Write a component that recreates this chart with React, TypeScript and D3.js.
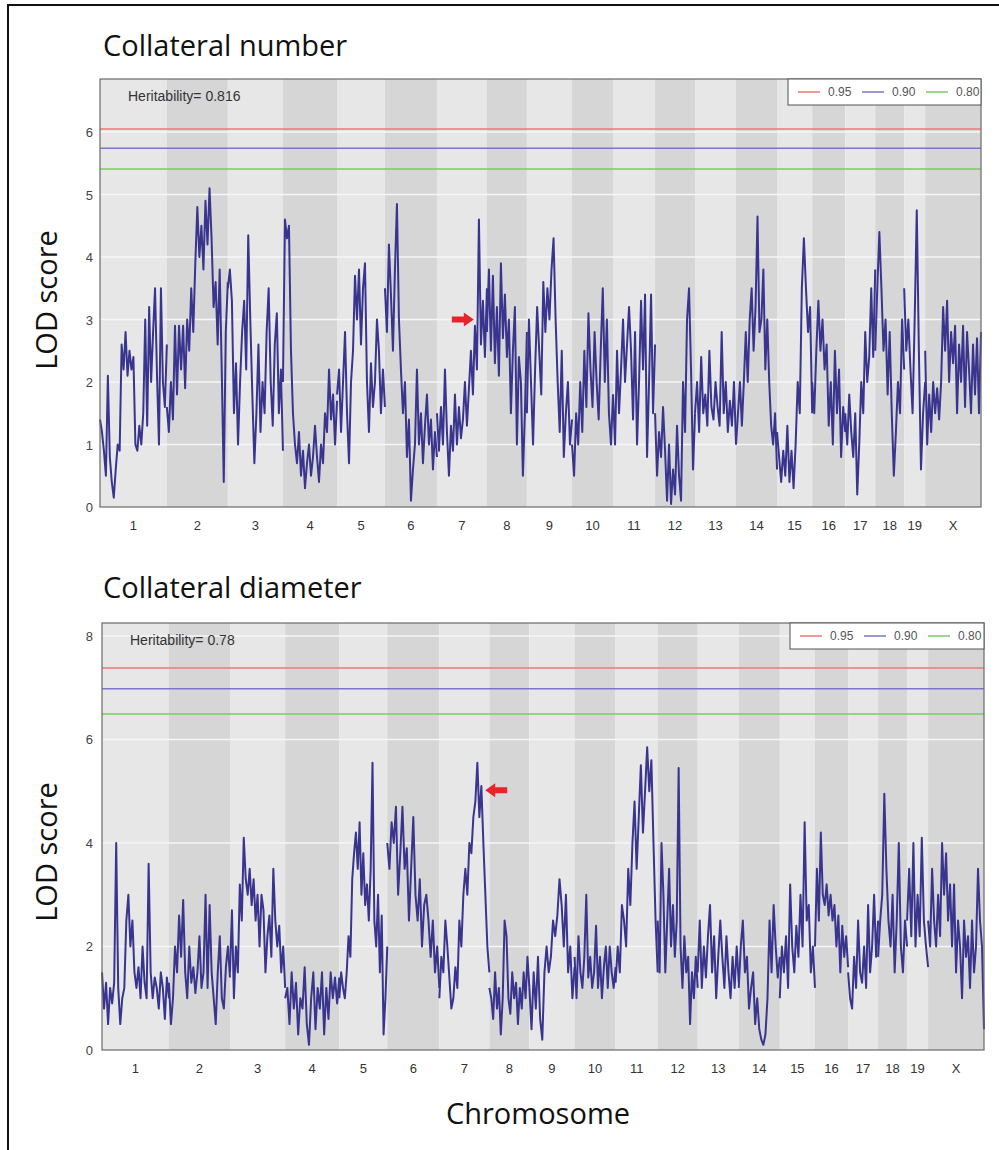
import React, { useRef, useEffect } from 'react';
import * as d3 from 'd3';

// Chromosomes and their lengths (Mb)
const chromosomes = ['1', '2', '3', '4', '5', '6', '7', '8', '9', '10', '11', '12', '13', '14', '15', '16', '17', '18', '19', 'X'];
const chromLengths = [194, 177, 160, 157, 139, 151, 145, 116, 131, 119, 122, 116, 119, 119, 102, 96, 87, 84, 61, 162];

// LOD profile, collateral number (values along each chromosome)
const numberLod = [
  [1.4, 1.2, 0.9, 0.5, 2.1, 0.8, 0.4, 0.15, 0.6, 1.0, 0.9, 2.6, 2.2, 2.8, 2.1, 2.5, 2.2, 2.4, 1.0, 0.9, 1.3, 1.0, 1.5, 3.0, 1.3, 3.2, 2.0, 2.8, 3.5, 2.1, 1.0, 3.5, 2.0, 1.6, 2.6],
  [1.6, 1.2, 2.0, 1.4, 2.9, 1.8, 2.9, 2.2, 2.9, 1.9, 3.0, 2.5, 3.5, 2.8, 3.9, 4.8, 4.0, 4.5, 3.8, 4.9, 4.2, 5.1, 4.3, 3.2, 3.6, 2.6, 3.8, 2.2, 0.4, 2.8, 3.6],
  [3.5, 3.8, 3.3, 1.5, 2.3, 1.0, 2.0, 2.8, 3.3, 2.2, 4.35, 3.0, 1.8, 0.7, 1.5, 2.6, 1.2, 2.0, 1.5, 2.8, 3.5, 2.0, 1.3, 2.6, 3.1, 1.5, 2.2, 0.9],
  [2.0, 4.6, 4.3, 4.5, 2.5, 1.5, 1.0, 0.7, 1.2, 0.5, 0.9, 0.3, 0.7, 1.0, 0.5, 0.8, 1.3, 0.8, 0.4, 1.0, 0.7, 1.5, 1.2, 2.2, 1.4, 1.8, 1.0, 1.7],
  [1.8, 2.2, 1.2, 2.0, 2.8, 1.5, 0.7, 2.0, 2.5, 3.7, 3.0, 3.8, 2.6, 3.5, 3.9, 2.0, 1.2, 2.3, 1.6, 2.0, 3.0, 2.5, 1.5, 2.2, 1.6],
  [3.5, 2.8, 4.2, 3.4, 2.5, 3.8, 4.85, 3.0, 2.2, 1.5, 2.0, 0.8, 1.4, 0.1, 0.6, 1.0, 2.2, 1.0, 1.5, 0.7, 1.3, 1.8, 1.0, 1.4, 0.6, 1.2, 0.8],
  [1.5, 0.9, 1.6, 1.0, 2.2, 1.2, 0.5, 1.3, 0.9, 1.8, 1.0, 1.6, 1.1, 1.4, 2.0, 1.3, 1.9, 2.5, 1.8, 2.9, 2.2, 4.6, 2.6, 3.3, 2.4, 3.5],
  [2.8, 3.8, 2.5, 3.7, 2.3, 3.2, 2.1, 3.9, 2.7, 3.4, 2.4, 3.0, 1.5, 2.5, 3.2, 1.0, 2.4, 2.0, 0.5, 1.5, 2.8],
  [1.5, 3.0, 2.0, 1.0, 2.2, 3.2, 2.5, 1.8, 3.6, 2.8, 3.5, 3.0, 3.8, 4.3, 3.0, 2.0, 1.2, 2.5, 0.8, 1.5, 2.0, 1.0, 1.4],
  [1.0, 0.5, 1.5, 1.0, 2.0, 1.2, 2.5, 1.6, 3.1, 2.2, 1.6, 2.8, 2.0, 1.4, 2.5, 3.5, 2.0, 3.0, 1.5, 1.0, 1.8],
  [1.8, 1.0, 2.5, 1.5, 2.2, 3.0, 2.0, 2.6, 3.2, 2.5, 1.4, 2.8, 1.0, 2.0, 3.3, 2.2, 3.4, 0.8, 2.0, 3.4, 1.5, 2.6],
  [1.5, 0.5, 1.2, 0.8, 1.6, 0.9, 0.1, 1.0, 0.05, 0.6, 0.2, 1.3, 0.5, 0.1, 2.0, 1.2, 3.0, 3.5, 2.2, 0.6, 1.5],
  [1.5, 2.0, 1.2, 2.4, 1.5, 1.8, 1.3, 2.5, 1.6, 1.4, 2.0, 1.6, 1.3, 2.8, 1.5, 2.0, 1.2, 1.7, 1.3, 2.0, 1.0],
  [1.0, 1.5, 2.0, 1.3, 2.0, 2.8, 2.0, 3.0, 3.5, 2.5, 3.2, 4.65, 2.8, 3.0, 3.8, 2.2, 3.0, 2.0, 1.3, 1.0, 1.5, 0.6],
  [1.2, 0.8, 0.4, 0.9, 0.5, 1.3, 0.4, 0.9, 0.3, 1.0, 2.0, 1.5, 3.5, 4.3, 3.5, 2.8, 3.2, 1.5],
  [2.0, 1.5, 2.5, 3.3, 2.5, 3.0, 2.2, 2.6, 1.3, 2.0, 1.0, 2.5, 1.5, 2.2, 0.8, 1.6, 1.2],
  [1.5, 1.0, 1.8, 1.2, 0.8, 1.5, 0.2, 1.0, 2.0, 1.5, 2.8, 2.0, 2.4, 3.5, 2.4, 3.8],
  [2.5, 3.5, 4.4, 3.5, 2.5, 3.0, 1.8, 2.8, 1.5, 0.5, 1.2, 2.0, 1.5, 3.0, 2.2],
  [3.5, 2.5, 3.0, 2.2, 1.5, 3.0, 4.75, 2.5, 0.6, 1.5, 2.0],
  [2.5, 1.0, 1.8, 1.2, 2.0, 1.5, 1.9, 1.4, 2.0, 3.2, 2.5, 3.3, 2.0, 2.8, 2.3, 2.9, 1.5, 2.6, 2.0, 2.9, 1.6, 2.8, 2.2, 1.5, 2.6, 1.8, 2.7, 1.5, 2.8],
];

// LOD profile, collateral diameter
const diameterLod = [
  [1.5, 0.8, 1.3, 0.5, 1.2, 0.9, 1.3, 4.0, 1.2, 0.5, 1.0, 1.2, 2.5, 3.0, 2.0, 2.5, 1.5, 1.2, 1.6, 1.0, 2.0, 1.3, 1.0, 3.6, 1.5, 1.0, 1.4, 1.2, 0.8, 1.5, 1.2, 0.6, 1.4, 1.0],
  [1.3, 0.5, 1.0, 2.0, 1.5, 2.6, 1.8, 2.9, 1.5, 1.0, 2.0, 1.3, 1.6, 1.1, 1.5, 2.2, 1.2, 1.5, 3.0, 1.2, 2.8, 1.5, 1.0, 0.5, 1.5, 2.2, 1.0, 0.8, 1.6, 2.0, 1.4],
  [1.5, 2.7, 1.0, 2.0, 1.5, 3.2, 2.5, 4.1, 3.3, 3.0, 3.5, 2.8, 3.3, 2.5, 3.0, 2.0, 3.0, 2.7, 1.5, 2.2, 2.6, 1.8, 3.5, 2.5, 2.0, 2.4, 1.5, 2.0, 1.2],
  [1.0, 1.2, 0.5, 1.5, 0.8, 1.3, 0.3, 1.0, 0.8, 1.6, 0.5, 0.1, 1.0, 1.5, 0.4, 1.2, 0.8, 1.5, 0.3, 1.2, 0.6, 1.5, 1.0, 1.4, 0.9, 1.4],
  [1.0, 1.5, 1.2, 1.0, 1.5, 2.2, 1.8, 3.3, 3.8, 4.2, 3.5, 4.4, 3.0, 3.8, 2.8, 3.2, 2.5, 3.5, 5.55, 2.5, 2.0, 3.0, 1.5, 2.6, 0.3, 1.0, 2.0],
  [4.0, 3.5, 4.4, 4.0, 4.7, 3.0, 3.8, 4.7, 3.5, 3.9, 2.5, 3.5, 4.5, 3.0, 2.5, 3.3, 2.0, 2.8, 3.0, 2.5, 1.8, 2.5, 1.5, 2.0, 1.2],
  [1.0, 1.8, 1.5, 2.5, 2.0, 1.4, 0.8, 1.0, 1.6, 1.2, 2.5, 2.0, 3.0, 3.5, 3.0, 4.0, 3.8, 4.5, 4.8, 5.55, 4.5, 5.1, 4.0, 3.0, 2.0, 1.5],
  [1.2, 1.0, 0.6, 1.5, 0.8, 1.2, 0.3, 1.0, 2.5, 2.2, 1.0, 0.7, 1.5, 1.0, 1.3, 0.5, 1.2, 0.8, 1.5, 1.0, 1.8, 1.2],
  [1.2, 0.4, 1.5, 0.8, 1.8, 0.6, 0.2, 1.5, 2.0, 1.5, 1.8, 2.5, 2.2, 2.6, 3.3, 2.8, 2.0, 3.0, 1.5, 2.0, 1.0, 1.6],
  [1.8, 1.0, 2.2, 1.5, 1.2, 1.8, 3.0, 1.4, 1.8, 1.2, 1.5, 2.4, 1.2, 1.8, 1.0, 1.6, 2.0, 1.2, 2.0, 1.5, 1.2, 1.6],
  [1.3, 2.0, 1.5, 2.8, 2.5, 2.0, 3.5, 2.8, 4.0, 4.8, 3.5, 4.5, 5.5, 4.2, 5.0, 5.85, 5.0, 5.6, 4.0, 2.5, 1.5],
  [2.5, 1.5, 4.0, 3.0, 1.5, 2.5, 3.5, 2.0, 2.8, 1.8, 2.5, 5.45, 2.0, 1.2, 2.2, 1.5, 1.8, 0.5, 1.5, 1.0, 1.8, 1.2],
  [1.5, 2.5, 1.2, 2.0, 1.4, 2.2, 2.8, 1.5, 2.2, 1.0, 1.8, 2.5, 1.8, 1.2, 2.2, 1.5, 1.0, 1.8, 1.2, 2.0, 1.3],
  [1.2, 2.0, 2.5, 1.5, 1.8, 0.8, 1.2, 1.5, 0.5, 1.0, 0.4, 0.2, 0.1, 0.3, 1.0, 2.5, 1.5, 2.8, 2.0, 1.4, 1.8],
  [1.0, 2.0, 1.5, 2.2, 1.2, 3.2, 2.0, 1.5, 2.4, 1.8, 3.0, 2.0, 4.4, 2.5, 2.8, 1.5, 2.0, 1.2],
  [2.0, 3.5, 2.5, 4.2, 3.0, 2.8, 3.2, 2.6, 3.0, 2.5, 2.8, 2.0, 2.6, 1.5, 2.4, 1.8, 2.2, 1.6],
  [1.5, 1.0, 0.8, 1.8, 1.2, 2.5, 1.5, 1.3, 2.0, 1.2, 2.8, 1.5, 2.0, 3.0, 1.8, 2.5],
  [1.8, 2.5, 3.0, 4.95, 3.5, 2.5, 2.0, 3.0, 1.5, 2.5, 4.0, 2.0, 1.5, 2.5, 2.0],
  [2.5, 3.5, 2.2, 4.0, 2.0, 3.0, 2.2, 4.1, 2.5, 2.0, 1.6],
  [2.5, 2.0, 3.5, 2.5, 2.0, 3.0, 2.2, 4.0, 3.0, 3.8, 2.5, 3.2, 2.0, 3.2, 1.5, 2.5, 2.0, 1.0, 2.5, 1.8, 2.2, 1.2, 2.5, 1.5, 2.0, 3.5, 2.5, 2.0, 0.4],
];

// Significance thresholds
const thresholdLabels = ['0.95', '0.90', '0.80'];
const numberThresholds = [6.05, 5.74, 5.41];
const diameterThresholds = [7.38, 6.98, 6.49];

// Axis ticks
const numberTicks = [0, 1, 2, 3, 4, 5, 6];
const diameterTicks = [0, 2, 4, 6, 8];

// Heritability and arrow marks (chromosome, Mb, LOD)
const numberHeritability = 'Heritability= 0.816';
const diameterHeritability = 'Heritability= 0.78';
const numberArrow = { chr: '7', pos: 107, lod: 3.0, dir: 1 };
const diameterArrow = { chr: '7', pos: 133, lod: 5.02, dir: -1 };

const thresholdColors = ['#f07676', '#7876cc', '#7cc868'];
const bandColors = ['#e7e7e7', '#d6d6d6'];
const lineColor = '#39358f';

const panels = [
  {
    title: 'Collateral number', lod: numberLod, thresholds: numberThresholds, ticks: numberTicks,
    herit: numberHeritability, arrow: numberArrow,
    left: 100, right: 981, top: 79, bottom: 507, yMax: 6.85, titleY: 56, ylabY: 300, legendX: 788,
  },
  {
    title: 'Collateral diameter', lod: diameterLod, thresholds: diameterThresholds, ticks: diameterTicks,
    herit: diameterHeritability, arrow: diameterArrow,
    left: 102, right: 984, top: 623, bottom: 1050, yMax: 8.25, titleY: 598, ylabY: 852, legendX: 790,
  },
];

const App = () => {
  const svgRef = useRef(null);

  useEffect(() => {
    const svg = d3.select(svgRef.current);
    svg.selectAll('*').remove();

    const starts = [];
    let acc = 0;
    chromLengths.forEach(l => { starts.push(acc); acc += l; });
    const total = acc;

    // outer frame (left and top)
    svg.append('path')
      .attr('d', 'M8,1150 L8,5 L999,5')
      .attr('fill', 'none')
      .attr('stroke', '#111')
      .attr('stroke-width', 2);

    panels.forEach(p => {
      const g = svg.append('g');
      const x = d3.scaleLinear().domain([0, total]).range([p.left, p.right]);
      const y = d3.scaleLinear().domain([0, p.yMax]).range([p.bottom, p.top]);

      // chromosome bands
      g.selectAll('rect.band')
        .data(chromosomes)
        .join('rect')
        .attr('x', (d, i) => x(starts[i]))
        .attr('y', p.top)
        .attr('width', (d, i) => x(starts[i] + chromLengths[i]) - x(starts[i]))
        .attr('height', p.bottom - p.top)
        .attr('fill', (d, i) => bandColors[i % 2]);

      // white gridlines
      g.selectAll('line.grid')
        .data(p.ticks.filter(t => t > 0))
        .join('line')
        .attr('x1', p.left).attr('x2', p.right)
        .attr('y1', d => y(d)).attr('y2', d => y(d))
        .attr('stroke', '#f6f6f6')
        .attr('stroke-width', 1.5);

      // threshold lines
      g.selectAll('line.thr')
        .data(p.thresholds)
        .join('line')
        .attr('x1', p.left).attr('x2', p.right)
        .attr('y1', d => y(d)).attr('y2', d => y(d))
        .attr('stroke', (d, i) => thresholdColors[i])
        .attr('stroke-width', 1.5);

      // LOD profile, one path per chromosome
      const line = d3.line()
        .x(d => x(d[0]))
        .y(d => y(d[1]));
      p.lod.forEach((vals, ci) => {
        const pts = vals.map((v, j) => [starts[ci] + (j / (vals.length - 1)) * chromLengths[ci], v]);
        g.append('path')
          .datum(pts)
          .attr('fill', 'none')
          .attr('stroke', lineColor)
          .attr('stroke-width', 2)
          .attr('stroke-linejoin', 'round')
          .attr('d', line);
      });

      // panel border
      g.append('rect')
        .attr('x', p.left).attr('y', p.top)
        .attr('width', p.right - p.left).attr('height', p.bottom - p.top)
        .attr('fill', 'none')
        .attr('stroke', '#6a6a6a')
        .attr('stroke-width', 1.2);

      // legend
      const lg = g.append('g');
      lg.append('rect')
        .attr('x', p.legendX).attr('y', p.top)
        .attr('width', p.right - p.legendX).attr('height', 26)
        .attr('fill', '#fff')
        .attr('stroke', '#555')
        .attr('stroke-width', 1);
      thresholdLabels.forEach((lab, i) => {
        const lx = p.legendX + 10 + i * 64;
        lg.append('line')
          .attr('x1', lx).attr('x2', lx + 22)
          .attr('y1', p.top + 13).attr('y2', p.top + 13)
          .attr('stroke', thresholdColors[i])
          .attr('stroke-width', 1.5);
        lg.append('text')
          .attr('x', lx + 30).attr('y', p.top + 17)
          .attr('font-family', 'Liberation Sans, Arial, sans-serif')
          .attr('font-size', 12)
          .attr('fill', '#555')
          .text(lab);
      });

      // heritability
      g.append('text')
        .attr('x', p.left + 28).attr('y', p.top + 22)
        .attr('font-family', 'Liberation Sans, Arial, sans-serif')
        .attr('font-size', 14)
        .attr('fill', '#333')
        .text(p.herit);

      // y tick labels
      g.selectAll('text.ytick')
        .data(p.ticks)
        .join('text')
        .attr('x', 93)
        .attr('y', d => y(d) + 5)
        .attr('text-anchor', 'end')
        .attr('font-family', 'Liberation Sans, Arial, sans-serif')
        .attr('font-size', 13)
        .attr('fill', '#444')
        .text(d => d);

      // chromosome labels
      g.selectAll('text.xtick')
        .data(chromosomes)
        .join('text')
        .attr('x', (d, i) => x(starts[i] + chromLengths[i] / 2))
        .attr('y', p.bottom + 23)
        .attr('text-anchor', 'middle')
        .attr('font-family', 'Liberation Sans, Arial, sans-serif')
        .attr('font-size', 13)
        .attr('fill', '#333')
        .text(d => d);

      // title
      g.append('text')
        .attr('x', 103).attr('y', p.titleY)
        .attr('font-family', 'Open Sans, sans-serif')
        .attr('font-size', 29)
        .attr('fill', '#111')
        .text(p.title);

      // y axis label
      g.append('text')
        .attr('transform', `translate(57,${p.ylabY}) rotate(-90)`)
        .attr('text-anchor', 'middle')
        .attr('font-family', 'Open Sans, sans-serif')
        .attr('font-size', 29)
        .attr('fill', '#111')
        .text('LOD score');

      // red arrow
      const ci = chromosomes.indexOf(p.arrow.chr);
      const ax = x(starts[ci] + p.arrow.pos);
      const ay = y(p.arrow.lod);
      const d = p.arrow.dir;
      g.append('path')
        .attr('d', `M${ax},${ay} L${ax - d * 10},${ay - 7} L${ax - d * 10},${ay - 3} L${ax - d * 22},${ay - 3} L${ax - d * 22},${ay + 3} L${ax - d * 10},${ay + 3} L${ax - d * 10},${ay + 7} Z`)
        .attr('fill', '#e8242a');
    });

    // x axis title
    svg.append('text')
      .attr('x', 538).attr('y', 1124)
      .attr('text-anchor', 'middle')
      .attr('font-family', 'Open Sans, sans-serif')
      .attr('font-size', 29)
      .attr('fill', '#111')
      .text('Chromosome');
  }, []);

  return (
    <div style={{ position: 'absolute', left: 0, top: 0, background: '#fff' }}>
      <svg ref={svgRef} width={999} height={1150} style={{ display: 'block' }}></svg>
    </div>
  );
};

export default App;
